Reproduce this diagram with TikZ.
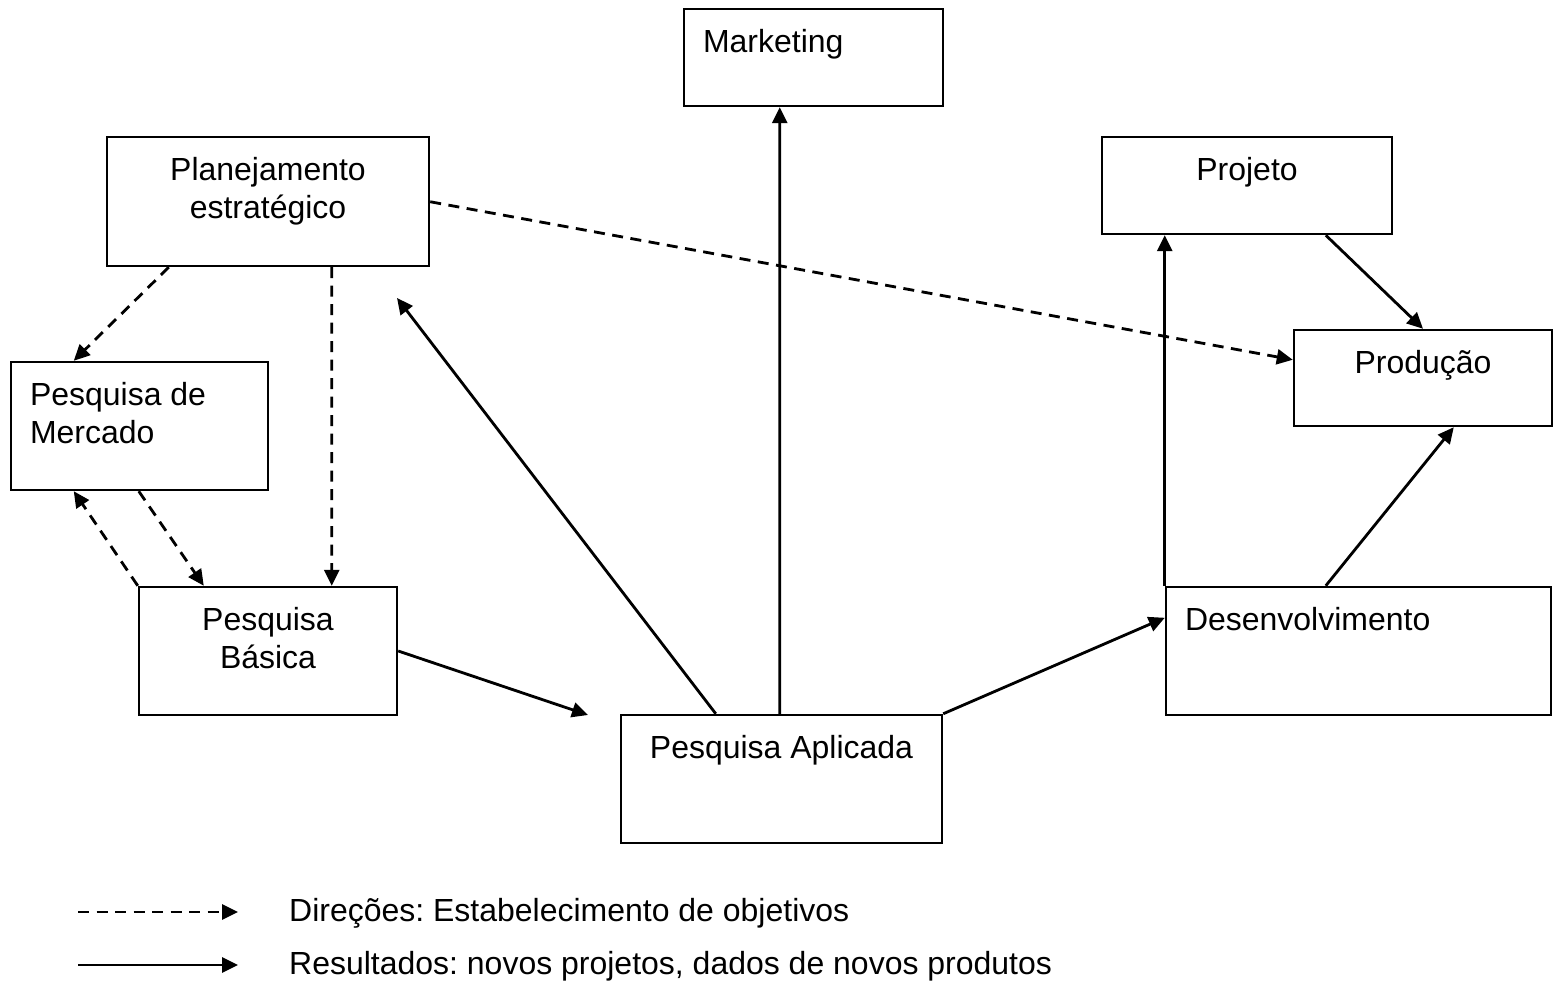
\documentclass[tikz,border=0pt]{standalone}
\usepackage{fontspec}
\setmainfont{Liberation Sans}
\usetikzlibrary{arrows.meta,calc}
\frenchspacing

\begin{document}
\begin{tikzpicture}[x=0.1mm,y=-0.1mm,line width=0.7pt,
                    >={Triangle[length=1.6mm,width=1.5mm]},
                    font=\fontsize{9.1}{11}\selectfont,
                    caixa/.style={rectangle,draw,fill=white,inner sep=0pt},
                    texto/.style={anchor=north,inner sep=0pt,yshift=-2mm,align=center},
                    textoesq/.style={anchor=north west,inner sep=0pt,xshift=1.9mm,yshift=-2mm,align=left},
                    resultado/.style={->,line width=0.8pt},
                    direcao/.style={->,line width=0.8pt,dash pattern=on 1.1mm off 0.75mm}]

          \useasboundingbox (0,0) rectangle (1555,987);

          \node[caixa,minimum width=25.9mm,minimum height=9.7mm,label={[textoesq]north west:Marketing}] (mkt) at (813.5,57.5) {};
          \node[caixa,minimum width=32.2mm,minimum height=12.9mm,label={[texto]north:Planejamento\\estratégico}] (plan) at (268,201.5) {};
          \node[caixa,minimum width=29mm,minimum height=9.7mm,label={[texto]north:Projeto}] (proj) at (1247,185.5) {};
          \node[caixa,minimum width=25.8mm,minimum height=9.6mm,label={[texto]north:Produção}] (prod) at (1423,378) {};
          \node[caixa,minimum width=25.7mm,minimum height=12.8mm,label={[textoesq]north west:Pesquisa de\\Mercado}] (merc) at (139.5,426) {};
          \node[caixa,minimum width=25.8mm,minimum height=12.8mm,label={[texto]north:Pesquisa\\Básica}] (basica) at (268,651) {};
          \node[caixa,minimum width=38.5mm,minimum height=12.8mm,label={[textoesq]north west:Desenvolvimento}] (desenv) at (1358.5,651) {};
          \node[caixa,minimum width=32.1mm,minimum height=12.8mm,label={[texto]north:Pesquisa Aplicada}] (aplic) at (781.5,779) {};

          % pontas soltas
          \coordinate (alvoplan) at (397,298);
          \coordinate (alvoaplic) at (588,715);

          % legenda
          \coordinate (d1) at (78,912);
          \coordinate (d2) at (238,912);
          \coordinate (r1) at (78,965);
          \coordinate (r2) at (238,965);
          \node[anchor=base west,inner sep=0pt] (legdir) at (288,921) {Direções: Estabelecimento de objetivos};
          \node[anchor=base west,inner sep=0pt] (legres) at (288,974) {Resultados: novos projetos, dados de novos produtos};

          \path
          ($(plan.south west)+(63,0)$) edge [direcao] ($(merc.north west)+(64,0)$)
          ($(plan.south west)+(226,0)$) edge [direcao] ($(basica.north west)+(194,0)$)
          ($(merc.south west)+(129,0)$) edge [direcao] ($(basica.north west)+(66,0)$)
          (basica.north west) edge [direcao] ($(merc.south west)+(64,0)$)
          ($(plan.north east)+(0,66)$) edge [direcao] ($(prod.north west)+(0,31)$)

          (basica.east) edge [resultado] (alvoaplic)
          ($(aplic.north west)+(96,0)$) edge [resultado] (alvoplan)
          ($(aplic.north west)+(160,0)$) edge [resultado] ($(mkt.south west)+(97,0)$)
          (aplic.north east) edge [resultado] ($(desenv.north west)+(0,32)$)
          (desenv.north west) edge [resultado] (desenv.north west |- proj.south)
          ($(proj.south west)+(225,0)$) edge [resultado] (prod.north)
          ($(desenv.north west)+(161,0)$) edge [resultado] ($(prod.south west)+(161,0)$)

          (d1) edge [direcao] (d2)
          (r1) edge [resultado] (r2);

        \end{tikzpicture}
\end{document}
